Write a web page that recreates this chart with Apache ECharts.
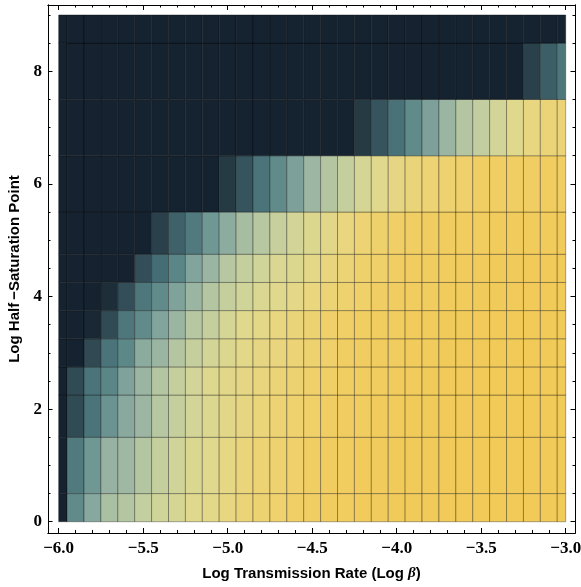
<!DOCTYPE html>
<html>
<head>
<meta charset="utf-8">
<script src="https://cdn.jsdelivr.net/npm/echarts@6/dist/echarts.min.js"></script>
<style>
html,body{margin:0;padding:0;background:#fff;}
#c{width:581px;height:587px;}
</style>
</head>
<body>
<div id="c"></div>
<script>
// Column centres (Log beta) and row centres (Log half-saturation point)
const xs = [-6.0,-5.9,-5.8,-5.7,-5.6,-5.5,-5.4,-5.3,-5.2,-5.1,-5.0,-4.9,-4.8,-4.7,-4.6,-4.5,-4.4,-4.3,-4.2,-4.1,-4.0,-3.9,-3.8,-3.7,-3.6,-3.5,-3.4,-3.3,-3.2,-3.1,-3.0];
const ys = [0, 1, 2, 2.5, 3, 3.5, 4, 4.5, 5, 6, 7, 8, 9];

// Cell levels (0 = dark navy ... 15 = gold), one array per row
const z_y0   = [0,4.3,6.0,7.8,8.3,9.1,9.8,10.3,11.0,11.4,12.0,12.5,12.9,13.2,13.7,14.0,14.3,14.5,14.6,14.7,14.8,14.8,14.9,14.9,15,15,15,15,15,15,15];
const z_y1   = [0,3.6,4.9,6.8,7.2,8.3,9.2,9.9,10.6,11.0,11.7,12.3,12.8,13.1,13.5,13.9,14.2,14.4,14.6,14.7,14.8,14.8,14.9,14.9,15,15,15,15,15,15,15];
const z_y2   = [0,2.0,3.4,4.7,6.1,7.1,8.4,9.2,10.0,10.8,11.3,11.9,12.3,12.8,13.2,13.6,13.9,14.2,14.4,14.6,14.7,14.8,14.8,14.9,14.9,15,15,15,15,15,15];
const z_y2_5 = [0,2.0,3.4,4.1,5.6,7.0,8.3,9.2,10.0,10.9,11.3,11.8,12.2,12.5,12.9,13.4,13.8,14.1,14.3,14.5,14.6,14.7,14.8,14.9,14.9,15,15,15,15,15,15];
const z_y3   = [0,0,1.9,3.4,4.2,6.2,7.0,8.3,9.2,10.1,10.8,11.4,11.8,12.2,12.7,13.1,13.5,13.9,14.2,14.4,14.5,14.6,14.7,14.8,14.9,14.9,15,15,15,15,15];
const z_y3_5 = [0,0,0.3,2.0,3.5,4.3,5.7,7.0,8.4,9.2,10.2,11.0,11.4,12.0,12.4,12.9,13.4,13.8,14.1,14.3,14.4,14.6,14.7,14.8,14.8,14.9,14.9,15,15,15,15];
const z_y4   = [0,0,0,0.6,2.1,3.5,4.3,5.6,7.0,8.3,9.2,9.9,10.5,11.1,11.5,12.1,12.7,13.1,13.6,14.0,14.2,14.4,14.5,14.6,14.7,14.8,14.8,14.9,14.9,15,15];
const z_y4_5 = [0,0,0,0,0,2.1,3.1,4.1,5.7,7.0,8.4,9.2,9.9,10.5,10.8,11.5,12.2,12.7,13.3,13.6,14.0,14.2,14.4,14.5,14.6,14.7,14.8,14.8,14.9,14.9,15];
const z_y5   = [0,0,0,0,0,0,1.5,2.7,3.6,4.9,6.3,7.6,8.4,9.3,10.0,10.8,11.3,12.1,12.8,13.3,13.7,14.0,14.2,14.3,14.4,14.5,14.6,14.6,14.7,14.7,14.8];
const z_y6   = [0,0,0,0,0,0,0,0,0,0,1.2,2.3,3.4,4.3,5.5,7.1,8.3,9.2,10.2,11.0,11.8,12.4,12.8,13.0,13.5,14.0,14.0,14.0,14.0,14.3,14.0];
const z_y7   = [0,0,0,0,0,0,0,0,0,0,0,0,0,0,0,0,0,0,1.2,2.3,3.3,4.3,5.5,7.0,8.3,9.0,10.0,11.0,12.0,12.5,12.5];
const z_y8   = [0,0,0,0,0,0,0,0,0,0,0,0,0,0,0,0,0,0,0,0,0,0,0,0,0,0,0,0,1.5,2.6,3.5];
const z_y9   = [0,0,0,0,0,0,0,0,0,0,0,0,0,0,0,0,0,0,0,0,0,0,0,0,0,0,0,0,0,0,0];
const rows = [z_y0, z_y1, z_y2, z_y2_5, z_y3, z_y3_5, z_y4, z_y4_5, z_y5, z_y6, z_y7, z_y8, z_y9];

// Tick labels
const xTicks = [-6.0,-5.5,-5.0,-4.5,-4.0,-3.5,-3.0];
const yTicks = [0,2,4,6,8];
const xMinor = []; for (let i = 0; i <= 30; i++) { const v = +(-6 + i*0.1).toFixed(1); if (xTicks.indexOf(v) < 0) xMinor.push(v); }
const yMinor = []; for (let i = 0; i <= 18; i++) { const v = i*0.5; if (yTicks.indexOf(v) < 0) yMinor.push(v); }

const palette = ['#15222f','#233640','#314b55','#436a73','#588485','#729a96','#87a89e','#9bb5a3','#aec3a2','#c2cea0','#d2d597','#dfd88d','#e8d680','#eed270','#f1ce63','#f1ca58'];

const data = [];
rows.forEach((row, ri) => row.forEach((v, ci) => data.push([xs[ci], ys[ri], v, ci, ri])));

const X0 = -6.0, X1 = -3.0, Y0 = 0, Y1 = 9;
function edges(arr, i, lo, hi) {
  const a = i > 0 ? (arr[i-1] + arr[i]) / 2 : lo;
  const b = i < arr.length - 1 ? (arr[i] + arr[i+1]) / 2 : hi;
  return [Math.max(a, lo), Math.min(b, hi)];
}

const XMIN = -6.063, XMAX = -2.945, YMIN = -0.2, YMAX = 9.177;
const lineStyle = {color:'#000', width:1};
const labelFont = {fontFamily:'Liberation Serif', fontWeight:'bold', fontSize:17, color:'#000'};
const fmtX = v => (v < 0 ? '\u2212' : '') + Math.abs(v).toFixed(1);

function xAx(pos, ticks, len, labels) {
  return {
    type:'value', position:pos, min:XMIN, max:XMAX,
    axisLine:{show:true, onZero:false, lineStyle},
    axisTick:{show:true, inside:true, length:len, customValues:ticks, lineStyle},
    axisLabel: labels ? Object.assign({show:true, customValues:ticks, formatter:fmtX, margin:7}, labelFont) : {show:false},
    splitLine:{show:false}
  };
}
function yAx(pos, ticks, len, labels) {
  return {
    type:'value', position:pos, min:YMIN, max:YMAX,
    axisLine:{show:true, onZero:false, lineStyle},
    axisTick:{show:true, inside:true, length:len, customValues:ticks, lineStyle},
    axisLabel: labels ? Object.assign({show:true, customValues:ticks, formatter:v => String(v), margin:6}, labelFont) : {show:false},
    splitLine:{show:false}
  };
}

const xA = [xAx('bottom', xTicks, 5, true), xAx('bottom', xMinor, 3, false), xAx('top', xTicks, 5, false), xAx('top', xMinor, 2.5, false)];
xA[0].name = 'Log Transmission Rate (Log {b|\u03b2})';
xA[0].nameLocation = 'middle';
xA[0].nameGap = 33;
xA[0].nameTextStyle = {fontFamily:'Liberation Sans', fontWeight:'bold', fontSize:15, color:'#000',
  rich:{b:{fontFamily:'Liberation Serif', fontStyle:'italic', fontWeight:'bold', fontSize:15, color:'#000'}}};
const yA = [yAx('left', yTicks, 4.5, true), yAx('left', yMinor, 2.5, false), yAx('right', yTicks, 4.5, false), yAx('right', yMinor, 2.5, false)];
yA[0].name = 'Log Half\u2009\u2212Saturation Point';
yA[0].nameLocation = 'middle';
yA[0].nameGap = 22;
yA[0].nameTextStyle = {fontFamily:'Liberation Sans', fontWeight:'bold', fontSize:15, color:'#000'};

const chart = echarts.init(document.getElementById('c'));
chart.setOption({
  backgroundColor:'#fff',
  animation:false,
  grid:{left:48, right:6, top:5, bottom:54, containLabel:false, outerBoundsMode:'none'},
  xAxis:xA,
  yAxis:yA,
  visualMap:{type:'continuous', show:false, min:0, max:15, dimension:2, seriesIndex:0, inRange:{color:palette}},
  series:[{
    type:'custom',
    xAxisIndex:0, yAxisIndex:0,
    data:data,
    encode:{x:0, y:1},
    renderItem:function(params, api){
      const ci = api.value(3), ri = api.value(4);
      const ex = edges(xs, ci, X0, X1), ey = edges(ys, ri, Y0, Y1);
      const p0 = api.coord([ex[0], ey[1]]);
      const p1 = api.coord([ex[1], ey[0]]);
      return {type:'rect', shape:{x:p0[0], y:p0[1], width:p1[0]-p0[0], height:p1[1]-p0[1]},
        style:{fill:api.visual('color'), stroke:'rgba(0,0,0,0.32)', lineWidth:1}};
    }
  }]
});
</script>
</body>
</html>
